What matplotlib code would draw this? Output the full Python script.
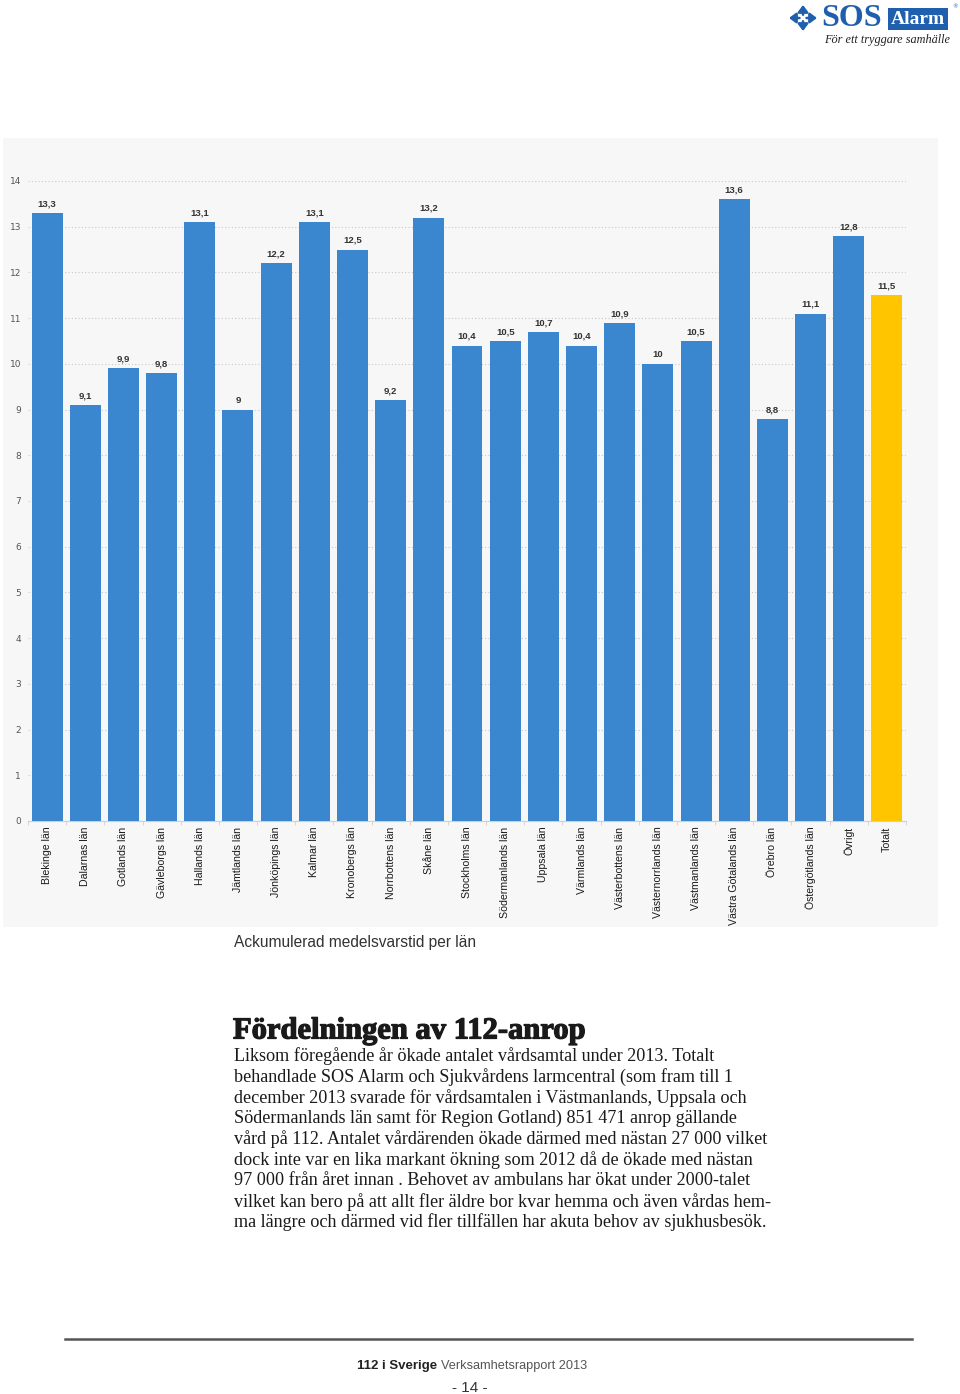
import matplotlib.pyplot as plt
import matplotlib.patheffects as pe
from matplotlib.patches import Rectangle, FancyArrowPatch

# data: ackumulerad medelsvarstid per län
lan = ["Blekinge län", "Dalarnas län", "Gotlands län", "Gävleborgs län", "Hallands län",
       "Jämtlands län", "Jönköpings län", "Kalmar län", "Kronobergs län", "Norrbottens län",
       "Skåne län", "Stockholms län", "Södermanlands län", "Uppsala län", "Värmlands län",
       "Västerbottens län", "Västernorrlands län", "Västmanlands län", "Västra Götalands län",
       "Örebro län", "Östergötlands län", "Övrigt", "Totalt"]
varden = [13.3, 9.1, 9.9, 9.8, 13.1, 9, 12.2, 13.1, 12.5, 9.2, 13.2, 10.4, 10.5, 10.7,
          10.4, 10.9, 10, 10.5, 13.6, 8.8, 11.1, 12.8, 11.5]

W, H = 960, 1394
fig = plt.figure(figsize=(W / 100, H / 100), dpi=100)
fig.patch.set_facecolor("white")

def fx(px):
    return px / W

def fy(py):
    return 1 - py / H

# grey panel behind the chart
panel = Rectangle((fx(3), fy(927)), fx(935), 789 / H, transform=fig.transFigure,
                  facecolor="#f7f7f7", edgecolor="none", zorder=-5)
fig.add_artist(panel)

ax = fig.add_axes([fx(28), fy(821), 878 / W, 640 / H])
ax.set_facecolor("none")
ax.set_zorder(2)
colors = ["#3a87cf"] * (len(lan) - 1) + ["#ffc600"]
x = list(range(len(lan)))
bars = ax.bar(x, varden, width=0.81, color=colors, zorder=3)
for b, v in zip(bars, varden):
    txt = f"{v:g}".replace(".", ",")
    ax.text(b.get_x() + b.get_width() / 2, v + 0.1, txt, ha="center", va="bottom",
            fontsize=6.8, fontweight="bold", color="#333333", family="Liberation Sans")

ax.set_xlim(-0.5, len(lan) - 0.5)
ax.set_ylim(0, 14)
ax.set_yticks(range(0, 15))
ax.grid(axis="y", linestyle=(0, (1, 2)), color="#c8c8c8", linewidth=0.8, zorder=0)
for s in ["top", "right", "left"]:
    ax.spines[s].set_visible(False)
ax.spines["bottom"].set_color("#d0d0d0")
ax.set_xticks(x)
ax.set_xticklabels(lan, rotation=90, fontsize=7.6, family="Liberation Sans", color="#1a1a1a")
ax.set_xticks([i + 0.5 for i in range(-1, len(lan))], minor=True)
ax.tick_params(axis="x", which="major", length=0, pad=4)
ax.tick_params(axis="x", which="minor", length=3, color="#d0d0d0")
ax.tick_params(axis="y", length=0, pad=5, labelsize=6.5, labelcolor="#555555")

fig.text(fx(234), fy(943), "Ackumulerad medelsvarstid per län", fontsize=11.2,
         family="Liberation Sans", color="#333333", va="center")

fig.text(fx(233), fy(1031), "Fördelningen av 112-anrop", fontsize=22, fontweight="bold",
         family="Liberation Serif", color="#1a1a1a", va="center",
         path_effects=[pe.withStroke(linewidth=0.9, foreground="#1a1a1a")])

body = [
    "Liksom föregående år ökade antalet vårdsamtal under 2013. Totalt",
    "behandlade SOS Alarm och Sjukvårdens larmcentral (som fram till 1",
    "december 2013 svarade för vårdsamtalen i Västmanlands, Uppsala och",
    "Södermanlands län samt för Region Gotland) 851 471 anrop gällande",
    "vård på 112. Antalet vårdärenden ökade därmed med nästan 27 000 vilket",
    "dock inte var en lika markant ökning som 2012 då de ökade med nästan",
    "97 000 från året innan . Behovet av ambulans har ökat under 2000-talet",
    "vilket kan bero på att allt fler äldre bor kvar hemma och även vårdas hem-",
    "ma längre och därmed vid fler tillfällen har akuta behov av sjukhusbesök.",
]
for i, line in enumerate(body):
    fig.text(fx(234), fy(1056 + i * 20.8), line, fontsize=13.1, family="Liberation Serif",
             color="#1a1a1a", va="center")

# footer
fig.add_artist(plt.Line2D([fx(65), fx(912)], [fy(1339), fy(1339)], transform=fig.transFigure,
                          color="#555555", linewidth=1.8))
fig.text(fx(357), fy(1366), "112 i Sverige", fontsize=9.5, fontweight="bold",
         family="Liberation Sans", color="#222222", va="center")
fig.text(fx(441), fy(1366), "Verksamhetsrapport 2013", fontsize=9.2,
         family="Liberation Sans", color="#555555", va="center")
fig.text(fx(470), fy(1388), "- 14 -", fontsize=11, family="Liberation Sans",
         color="#333333", va="center", ha="center")

# logo
blue = "#1f5fae"
fig.text(fx(821), fy(19), "SOS", fontsize=23, fontweight="bold", family="Liberation Serif",
         color=blue, va="center")
fig.text(fx(918), fy(19), "Alarm", fontsize=14, fontweight="bold", family="Liberation Serif",
         color="white", va="center", ha="center",
         bbox=dict(boxstyle="square,pad=0.14", facecolor=blue, edgecolor="none"))
fig.text(fx(952), fy(7), "®", fontsize=4, color=blue, va="center")
fig.text(fx(887), fy(40), "För ett tryggare samhälle", fontsize=8.8, style="italic",
         family="Liberation Serif", color="#222222", va="center", ha="center")
cx, cy = 803, 18
for dx, dy in [(-14, 0), (14, 0), (0, -13), (0, 13)]:
    fig.add_artist(FancyArrowPatch((fx(cx + dx * 0.25), fy(cy + dy * 0.25)),
                                   (fx(cx + dx), fy(cy + dy)), transform=fig.transFigure,
                                   arrowstyle="-|>,head_width=3,head_length=4",
                                   color=blue, lw=1.8, shrinkA=0, shrinkB=0))

fig.savefig("out.png", dpi=100)
